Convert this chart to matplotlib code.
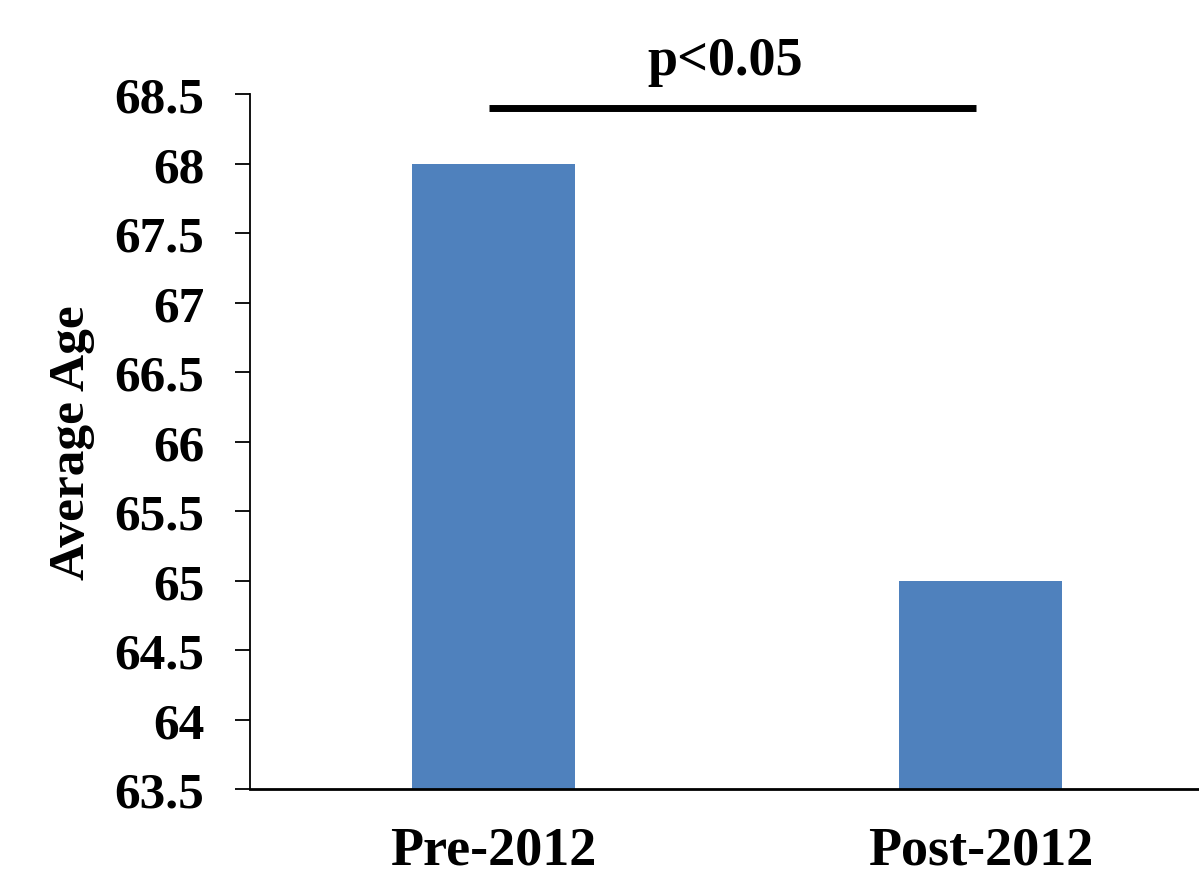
import matplotlib.pyplot as plt

plt.rcParams['font.family'] = ['Liberation Serif', 'DejaVu Serif']
plt.rcParams['font.weight'] = 'bold'

categories = ['Pre-2012', 'Post-2012']
ages = [68.0, 65.0]
y_ticks = [63.5, 64, 64.5, 65, 65.5, 66, 66.5, 67, 67.5, 68, 68.5]
y_tick_labels = ['63.5', '64', '64.5', '65', '65.5', '66', '66.5', '67', '67.5', '68', '68.5']
sig_text = 'p<0.05'
sig_level = 68.4

fig = plt.figure(figsize=(11.99, 8.7), dpi=100)
ax = fig.add_axes([250 / 1199, 80 / 870, 974 / 1199, 695 / 870])

x = range(len(categories))
ax.bar(x, [a - 63.5 for a in ages], bottom=63.5, width=0.335, color='#4F81BD')

ax.set_xlim(-0.5, 1.5)
ax.set_ylim(63.5, 68.5)
ax.set_yticks(y_ticks)
ax.set_yticklabels(y_tick_labels, fontsize=37, fontweight='bold')
ax.set_xticks(list(x))
ax.set_xticklabels(categories, fontsize=39, fontweight='bold')
ax.tick_params(axis='y', direction='out', length=11, width=1.3, pad=22)
ax.tick_params(axis='x', length=0, pad=26)

for s in ['top', 'right']:
    ax.spines[s].set_visible(False)
ax.spines['left'].set_linewidth(1.3)
ax.spines['bottom'].set_linewidth(2)

ax.set_ylabel('Average Age', fontsize=37, fontweight='bold', labelpad=14)

# significance bar
ax.plot([-0.01, 0.99], [sig_level, sig_level], color='black', lw=5, solid_capstyle='butt', clip_on=False)
ax.text(0.475, 68.56, sig_text, ha='center', va='bottom', fontsize=39, fontweight='bold', clip_on=False)

fig.savefig('out.png', dpi=100)
